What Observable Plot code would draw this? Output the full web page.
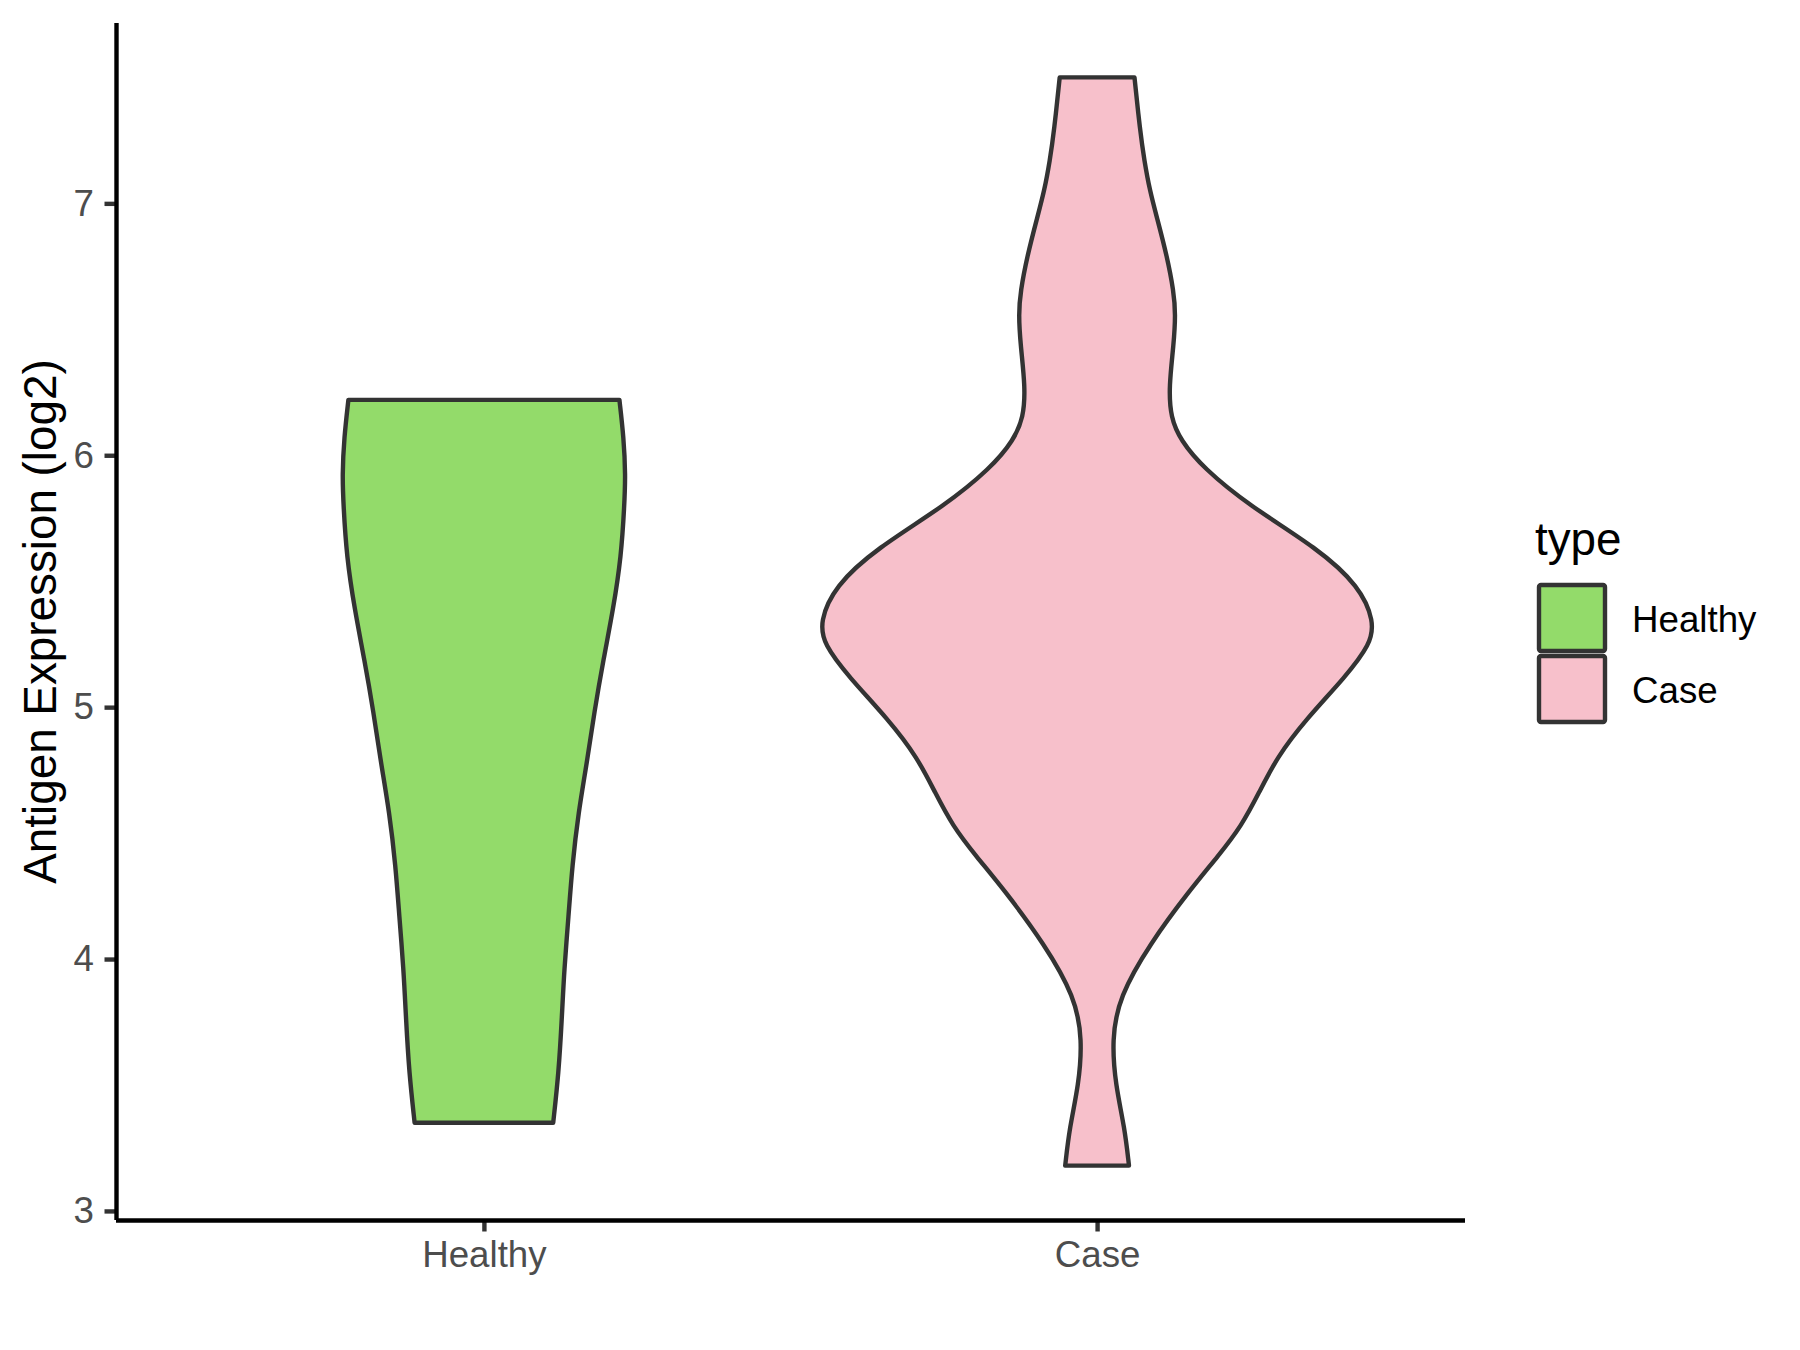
<!DOCTYPE html>
<html><head><meta charset="utf-8">
<script src="https://cdn.jsdelivr.net/npm/d3@7"></script>
<script src="https://cdn.jsdelivr.net/npm/@observablehq/plot@0.6"></script>
<style>
body{margin:0;background:#fff;}
#chart{position:relative;width:1800px;height:1350px;}
</style></head><body><div id="chart"></div>
<script>
const groups = ["Healthy", "Case"];
const groupColors = ["#93DB6A", "#F7C0CB"];
const yTicks = [3, 4, 5, 6, 7];
const yLabel = "Antigen Expression (log2)";
const legendTitle = "type";
// violin outlines: expression level and half-width (category units)
const healthyLevel = [3.35, 3.55, 3.76, 3.96, 4.17, 4.37, 4.58, 4.78, 4.98, 5.19, 5.39, 5.60, 5.80, 5.92, 6.07, 6.22];
const healthyHalfWidth = [0.113, 0.122, 0.127, 0.131, 0.138, 0.144, 0.154, 0.168, 0.180, 0.195, 0.211, 0.224, 0.229, 0.231, 0.228, 0.221];
const caseLevel = [3.18, 3.33, 3.50, 3.68, 3.85, 4.06, 4.27, 4.41, 4.53, 4.66, 4.80, 4.95, 5.12, 5.25, 5.34, 5.48, 5.63, 5.80, 5.95, 6.06, 6.15, 6.27, 6.44, 6.56, 6.65, 6.79, 6.94, 7.05, 7.17, 7.29, 7.50];
const caseHalfWidth = [0.052, 0.045, 0.030, 0.024, 0.036, 0.086, 0.150, 0.198, 0.236, 0.264, 0.293, 0.340, 0.405, 0.446, 0.452, 0.428, 0.360, 0.248, 0.173, 0.136, 0.120, 0.117, 0.125, 0.128, 0.125, 0.114, 0.098, 0.086, 0.077, 0.070, 0.061];

const profiles = [[healthyLevel, healthyHalfWidth], [caseLevel, caseHalfWidth]];
const rows = [];
profiles.forEach(([lv, hw], i) => {
  lv.forEach((y, j) => rows.push({group: groups[i], y, x1: i + 1 - hw[j], x2: i + 1 + hw[j]}));
});
const allLevels = healthyLevel.concat(caseLevel);
const lo = d3.min(allLevels), hi = d3.max(allLevels), pad = (hi - lo) * 0.05;
const yDomain = [lo - pad, hi + pad];
const xDomain = [0.4, groups.length + 0.6];
const xTicks = groups.map((g, i) => i + 1);

const LW = 4.4;
const plot = Plot.plot({
  width: 1800, height: 1350,
  marginLeft: 116, marginRight: 335, marginTop: 23, marginBottom: 130,
  style: {fontFamily: "'Liberation Sans', Arial, sans-serif", fontSize: "36.7px", color: "#4D4D4D", background: "#fff", overflow: "visible"},
  x: {domain: xDomain},
  y: {domain: yDomain},
  color: {domain: groups, range: groupColors},
  marks: [
    Plot.areaX(rows, {y: "y", x1: "x1", x2: "x2", z: "group", fill: "group", stroke: "#333333", strokeWidth: LW, curve: "basis"}),
    Plot.axisY(yTicks, {tickSize: 11.5, tickPadding: 11, tickFormat: d3.format("d"), stroke: "#333333", strokeWidth: LW, fill: "#4D4D4D", fontSize: 36.7, label: null}),
    Plot.axisX(xTicks, {tickSize: 11.5, tickPadding: 9, tickFormat: d => groups[d - 1], stroke: "#333333", strokeWidth: LW, fill: "#4D4D4D", fontSize: 36.7, label: null}),
    Plot.ruleX([xDomain[0]], {stroke: "#000", strokeWidth: LW}),
    Plot.ruleY([yDomain[0]], {stroke: "#000", strokeWidth: LW})
  ]
});
document.getElementById("chart").appendChild(plot);

const svg = d3.select(plot);
const yr = plot.scale("y").range;
const yMid = (yr[0] + yr[1]) / 2;
svg.append("text")
  .attr("transform", `translate(56,${yMid}) rotate(-90)`)
  .attr("text-anchor", "middle")
  .attr("fill", "#000")
  .style("font-size", "45.8px")
  .text(yLabel);

const lg = svg.append("g").attr("text-anchor", "start");
lg.append("text").attr("x", 1535).attr("y", 555).attr("fill", "#000").style("font-size", "45.8px").text(legendTitle);
const items = lg.selectAll("g.item").data(groups).join("g").attr("class", "item")
  .attr("transform", (d, i) => `translate(1539,${585 + i * 71})`);
items.append("rect").attr("width", 66).attr("height", 66).attr("rx", 2)
  .attr("fill", (d, i) => groupColors[i]).attr("stroke", "#333333").attr("stroke-width", LW);
items.append("text").attr("x", 93).attr("y", 47).attr("fill", "#000").style("font-size", "36.7px").text(d => d);
</script>
</body></html>
